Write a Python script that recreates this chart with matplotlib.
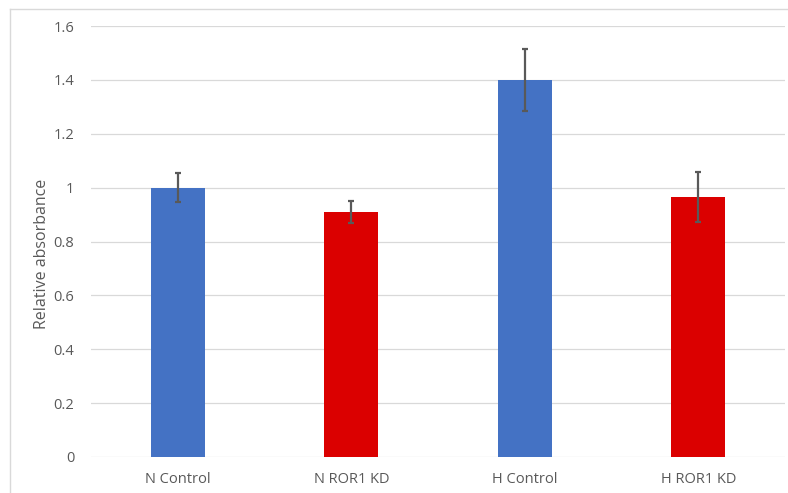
import matplotlib.pyplot as plt
from matplotlib.lines import Line2D

categories = ['N Control', 'N ROR1 KD', 'H Control', 'H ROR1 KD']
values = [1.0, 0.91, 1.4, 0.966]
errors = [0.054, 0.04, 0.115, 0.092]
colors = ['#4472C4', '#DB0000', '#4472C4', '#DB0000']
yticks = [0, 0.2, 0.4, 0.6, 0.8, 1.0, 1.2, 1.4, 1.6]
ytick_labels = ['0', '0.2', '0.4', '0.6', '0.8', '1', '1.2', '1.4', '1.6']

plt.rcParams['font.family'] = ['Open Sans', 'DejaVu Sans']
text_color = '#595959'

W, H = 788, 493
fig = plt.figure(figsize=(W / 100, H / 100), dpi=100)
ax = fig.add_axes([91 / W, (H - 457) / H, (785 - 91) / W, (457 - 26) / H])

x = range(len(categories))
ax.bar(x, values, width=0.31, color=colors, zorder=2)
ax.errorbar(x, values, yerr=errors, fmt='none', ecolor='#595959',
            elinewidth=1.6, capsize=2.3, capthick=1.6, zorder=3)

ax.set_xlim(-0.5, len(categories) - 0.5)
ax.set_ylim(0, 1.6)
ax.set_yticks(yticks)
ax.set_yticklabels(ytick_labels)
ax.set_xticks(list(x))
ax.set_xticklabels(categories)
ax.yaxis.grid(True, color='#D9D9D9', linewidth=0.9, zorder=0)
ax.set_axisbelow(True)
for s in ax.spines.values():
    s.set_visible(False)
ax.tick_params(axis='both', length=0, labelsize=10.5, colors=text_color)
ax.tick_params(axis='y', pad=12)
ax.tick_params(axis='x', pad=11)
ax.set_ylabel('Relative absorbance', fontsize=11.5, color=text_color)
ax.yaxis.set_label_coords((50 - 91) / 694, (457 - 254) / 431)

# chart border (Excel-like frame, cropped on right and bottom)
fig.add_artist(Line2D([10 / W, 10 / W], [0, (H - 9) / H], color='#D9D9D9', lw=1.0))
fig.add_artist(Line2D([10 / W, 1], [(H - 9) / H, (H - 9) / H], color='#D9D9D9', lw=1.0))

fig.savefig('out.png', dpi=100)
